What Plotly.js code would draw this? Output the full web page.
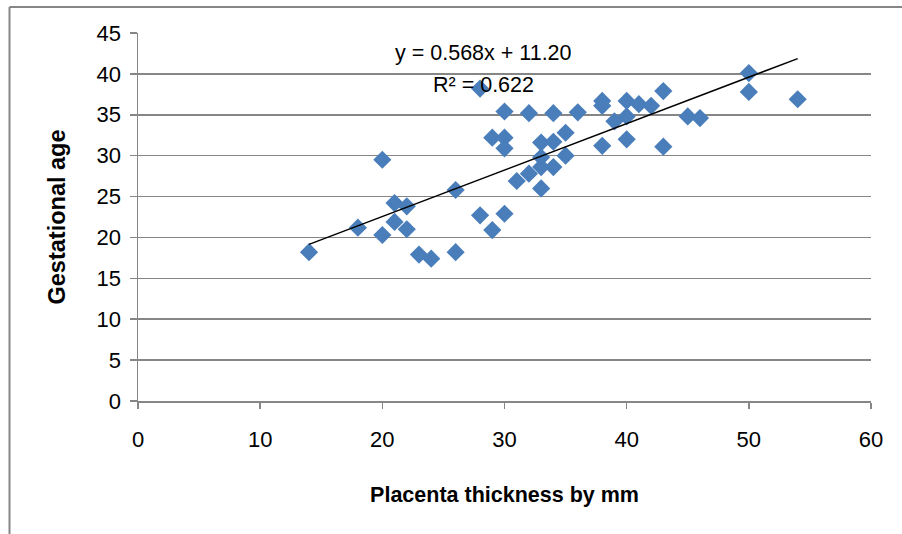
<!DOCTYPE html>
<html>
<head>
<meta charset="utf-8">
<script src="https://cdn.plot.ly/plotly-3.0.1.min.js"></script>
<style>html,body{margin:0;padding:0;background:#fff;}#chart{width:902px;height:534px;}</style>
</head>
<body>
<div id="chart"></div>
<script>
const thickness = [14,18,20,20,21,21,22,22,23,24,26,26,28,28,29,29,30,30,30,30,31,32,32,33,33,33,33,34,34,34,35,35,36,38,38,38,39,40,40,40,41,42,43,43,45,46,50,50,54];
const gestAge   = [18.2,21.2,29.5,20.3,24.2,21.9,23.8,21.0,17.9,17.4,25.8,18.2,38.2,22.7,32.2,20.9,35.4,32.2,30.9,22.9,26.9,35.2,27.8,31.6,29.8,28.6,26.0,35.2,31.7,28.6,32.8,30.0,35.3,36.7,36.1,31.2,34.2,36.7,34.8,32.0,36.3,36.1,37.9,31.1,34.8,34.6,40.1,37.8,36.9];
const slope = 0.568, intercept = 11.20, r2 = 0.622;
const trendX = [14, 54];
const trendY = trendX.map(x => slope * x + intercept);
const xTicks = [0,10,20,30,40,50,60];
const yTicks = [0,5,10,15,20,25,30,35,40,45];

const font = "'Liberation Sans', Arial, sans-serif";
const data = [
  {x: thickness, y: gestAge, type: 'scatter', mode: 'markers',
   marker: {symbol: 'diamond', size: 14, color: '#4A7EBB', line: {width: 0}}, hoverinfo: 'x+y'},
  {x: trendX, y: trendY, type: 'scatter', mode: 'lines',
   line: {color: '#000000', width: 1.5}, hoverinfo: 'skip'}
];
const layout = {
  width: 902, height: 534,
  margin: {l: 138, r: 31, t: 33, b: 133},
  paper_bgcolor: '#fff', plot_bgcolor: '#fff',
  showlegend: false,
  font: {family: font, size: 20, color: '#000'},
  xaxis: {range: [0, 60], tickvals: xTicks, ticktext: xTicks.map(String),
    showgrid: false, zeroline: false, showline: true, linecolor: '#868686', linewidth: 1.5,
    ticks: 'outside', ticklen: 6, tickcolor: '#868686', tickwidth: 1.5,
    tickfont: {family: font, size: 22}, ticklabelstandoff: 12,
    title: {text: '<b>Placenta thickness by mm</b>', font: {family: font, size: 21.5}, standoff: 36}},
  yaxis: {range: [0, 45], tickvals: yTicks, ticktext: yTicks.map(String),
    showgrid: true, gridcolor: '#868686', gridwidth: 1.5, zeroline: false,
    showline: true, linecolor: '#868686', linewidth: 1.5,
    ticks: 'outside', ticklen: 7, tickcolor: '#868686', tickwidth: 1.5,
    tickfont: {family: font, size: 22}, ticklabelstandoff: 4,
    title: {text: '<b>Gestational age</b>', font: {family: font, size: 23.5}, standoff: 24}},
  annotations: [
    {x: 28.3, y: 42.6, xref: 'x', yref: 'y', text: 'y = ' + slope.toFixed(3) + 'x + ' + intercept.toFixed(2),
     showarrow: false, font: {family: font, size: 21.5, color: '#000'}},
    {x: 28.3, y: 38.7, xref: 'x', yref: 'y', text: 'R² = ' + r2.toFixed(3),
     showarrow: false, font: {family: font, size: 21.5, color: '#000'}}
  ],
  shapes: [
    {type: 'line', xref: 'paper', yref: 'paper', x0: -0.1753, x1: 1.05, y0: 1.0707, y1: 1.0707,
     line: {color: '#868686', width: 2}},
    {type: 'line', xref: 'paper', yref: 'paper', x0: -0.1753, x1: -0.1753, y0: 1.0707, y1: -0.37,
     line: {color: '#868686', width: 2}}
  ]
};
Plotly.newPlot('chart', data, layout, {displayModeBar: false, staticPlot: true});
</script>
</body>
</html>
